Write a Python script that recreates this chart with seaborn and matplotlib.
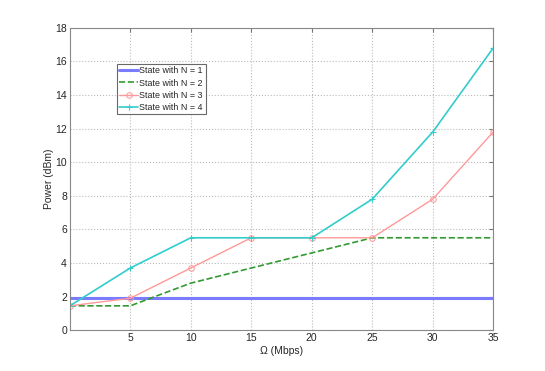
import matplotlib
matplotlib.use('Agg')
import matplotlib.pyplot as plt
import seaborn as sns
import pandas as pd

omega = [0, 5, 10, 15, 20, 25, 30, 35]
power_n1 = [1.9, 1.9, 1.9, 1.9, 1.9, 1.9, 1.9, 1.9]
power_n2 = [1.45, 1.45, 2.8, 3.7, 4.6, 5.5, 5.5, 5.5]
power_n3 = [1.45, 1.9, 3.7, 5.5, 5.5, 5.5, 7.8, 11.8]
power_n4 = [1.45, 3.7, 5.5, 5.5, 5.5, 7.8, 11.8, 16.8]
labels = ['State with N = 1', 'State with N = 2', 'State with N = 3', 'State with N = 4']

df = pd.DataFrame({'Omega': omega * 4,
                   'Power': power_n1 + power_n2 + power_n3 + power_n4,
                   'State': [l for l in labels for _ in omega]})

sns.set_style('white')
plt.rcParams['font.family'] = ['Liberation Sans', 'DejaVu Sans']
plt.rcParams['font.size'] = 7.5

fig = plt.figure(figsize=(5.45, 3.71), dpi=100)
ax = fig.add_axes([0.128, 0.11, 0.777, 0.815])

colors = ['#7b7bff', '#339933', '#ff9999', '#33cccc']
styles = [dict(lw=2.2, ls='-', marker=None),
          dict(lw=1.2, ls='--', marker=None),
          dict(lw=1.0, ls='-', marker='o', ms=4, mfc='none'),
          dict(lw=1.2, ls='-', marker='+', ms=4.5)]

for lab, c, st in zip(labels, colors, styles):
    sub = df[df['State'] == lab]
    sns.lineplot(data=sub, x='Omega', y='Power', color=c, label=lab, ax=ax,
                 linewidth=st['lw'], linestyle=st['ls'], marker=st['marker'],
                 markersize=st.get('ms', 0), markerfacecolor=st.get('mfc', c),
                 markeredgecolor=c)

ax.set_xlim(0, 35)
ax.set_ylim(0, 18)
ax.set_xticks([5, 10, 15, 20, 25, 30, 35])
ax.set_yticks(range(0, 19, 2))
ax.grid(True, color='#bbbbbb', linestyle=':', linewidth=0.8)
ax.tick_params(direction='in', length=3, color='#777777', labelsize=7.5,
               top=True, right=True, pad=2)
for s in ax.spines.values():
    s.set_color('#888888')
    s.set_linewidth(0.8)
ax.set_xlabel('Ω (Mbps)', fontsize=7.5, labelpad=2)
ax.set_ylabel('Power (dBm)', fontsize=7.5, labelpad=1)

leg = ax.legend(loc='upper left', bbox_to_anchor=(0.111, 0.881), fontsize=6.4,
                frameon=True, fancybox=False, edgecolor='#444444',
                borderpad=0.3, labelspacing=0.35, handlelength=2.1,
                handletextpad=0.15, borderaxespad=0)
leg.get_frame().set_linewidth(0.8)

fig.savefig('out.png', dpi=100)
